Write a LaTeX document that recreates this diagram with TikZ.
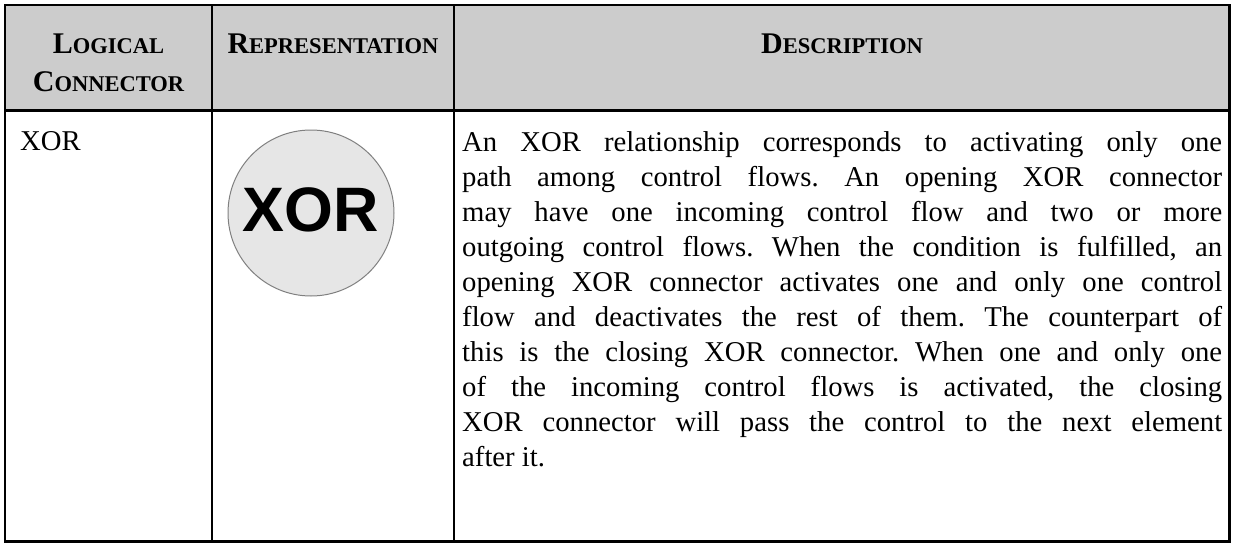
\documentclass[tikz,border=0pt]{standalone}
\usepackage{fontspec}
\setmainfont{Liberation Serif}
\newfontfamily\arialfont{Liberation Sans}
\definecolor{headgray}{HTML}{CCCCCC}
\definecolor{circfill}{HTML}{E6E6E6}
\definecolor{circline}{HTML}{808080}
\newcommand{\fsc}[2]{#1{\fontsize{22.5}{22.5}\selectfont #2}}
\tikzset{
  grid line/.style={line width=2.5pt, black},
  headtext/.style={inner sep=0pt, align=center, font=\fontsize{30}{39}\selectfont\bfseries},
  bodytext/.style={inner sep=0pt, font=\fontsize{28.7}{35}\selectfont\frenchspacing},
  xorcircle/.style={circle, draw=circline, line width=1pt, fill=circfill, minimum size=166pt, inner sep=0pt, text depth=7pt, font=\arialfont\bfseries\fontsize{62.8}{62.8}\selectfont}
}
\begin{document}
\begin{tikzpicture}[x=1pt,y=-1pt]
\useasboundingbox (0,0) rectangle (1236,543);
% header background
\fill[headgray] (5,5) rectangle (1229.5,110.5);
% grid
\draw[grid line] (5,5) rectangle (1229.5,541.5);
\draw[grid line] (5,110.5) -- (1229.5,110.5);
\draw[grid line] (212,5) -- (212,541.5);
\draw[grid line] (454,5) -- (454,541.5);
% header texts
\node[headtext, anchor=base] (h1) at (108.5,92) {\fsc{L}{OGICAL}\\\fsc{C}{ONNECTOR}};
\node[headtext, anchor=base] (h2) at (333,53) {\fsc{R}{EPRESENTATION}};
\node[headtext, anchor=base] (h3) at (842,53) {\fsc{D}{ESCRIPTION}};
% body
\node[bodytext, anchor=base west] (c1) at (20,150.5) {XOR};
\node[xorcircle] (rep) at (311,213) {XOR};
\node[bodytext, anchor=base west, text width=760pt, align=justify] (desc) at (462,151) {An XOR relationship corresponds to activating only one\linebreak
path among control flows. An opening XOR connector\linebreak
may have one incoming control flow and two or more\linebreak
outgoing control flows. When the condition is fulfilled, an\linebreak
opening XOR connector activates one and only one control\linebreak
flow and deactivates the rest of them. The counterpart of\linebreak
this is the closing XOR connector. When one and only one\linebreak
of the incoming control flows is activated, the closing\linebreak
XOR connector will pass the control to the next element\linebreak
after it.};
\end{tikzpicture}
\end{document}
